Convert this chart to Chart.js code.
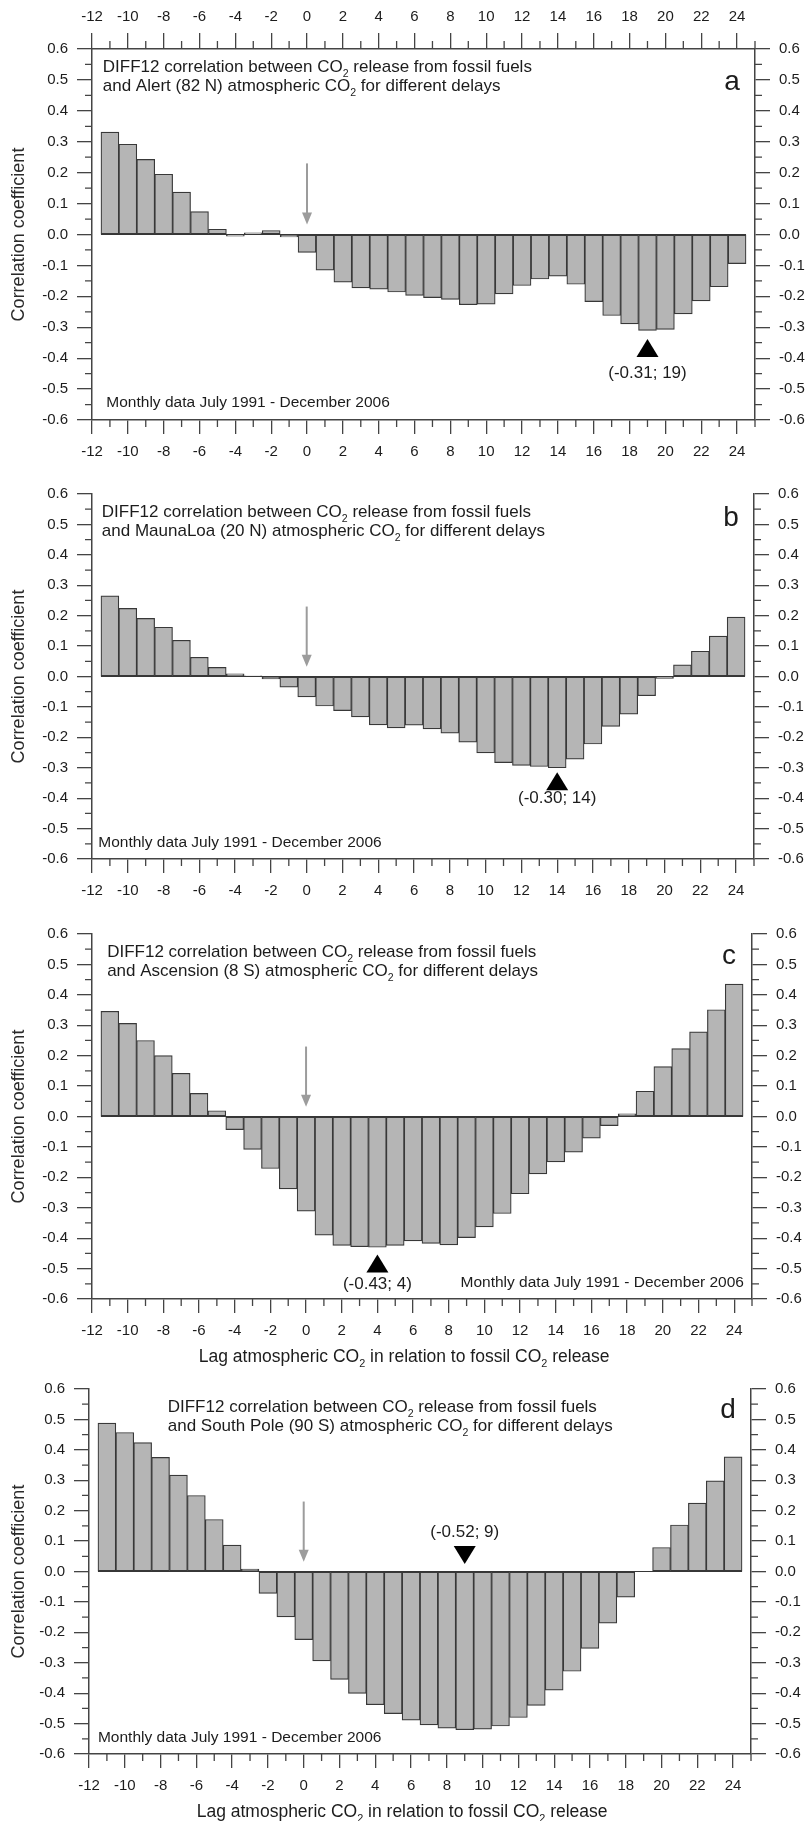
<!DOCTYPE html>
<html>
<head>
<meta charset="utf-8">
<title>DIFF12 lag correlations</title>
<script src="https://cdn.jsdelivr.net/npm/chart.js@4.4.0/dist/chart.umd.min.js"></script>
<style>
  html, body { margin: 0; padding: 0; background: #fff; }
  body { width: 809px; height: 1821px; position: relative; overflow: hidden; }
  canvas { position: absolute; left: 0; }
</style>
</head>
<body>
<canvas id="chartA"></canvas>
<canvas id="chartB"></canvas>
<canvas id="chartC"></canvas>
<canvas id="chartD"></canvas>
<script>
// Lag in months (atmospheric CO2 relative to fossil CO2 release)
const lags = [-11, -10, -9, -8, -7, -6, -5, -4, -3, -2, -1, 0, 1, 2, 3, 4, 5, 6,
              7, 8, 9, 10, 11, 12, 13, 14, 15, 16, 17, 18, 19, 20, 21, 22, 23, 24];

// Correlation coefficients per station
const alertR = [0.331, 0.292, 0.243, 0.195, 0.137, 0.074, 0.017, -0.005, 0.005, 0.013, -0.008, -0.058,
                -0.115, -0.154, -0.173, -0.177, -0.186, -0.197, -0.204, -0.210, -0.227, -0.225, -0.192, -0.165,
                -0.144, -0.135, -0.161, -0.217, -0.262, -0.289, -0.31, -0.307, -0.257, -0.215, -0.169, -0.094];
const maunaLoaR = [0.265, 0.224, 0.191, 0.162, 0.119, 0.063, 0.030, 0.009, 0.002, -0.008, -0.035, -0.067,
                   -0.097, -0.112, -0.133, -0.159, -0.169, -0.160, -0.172, -0.186, -0.216, -0.251, -0.283, -0.292,
                   -0.296, -0.30, -0.272, -0.222, -0.164, -0.124, -0.063, -0.006, 0.038, 0.083, 0.133, 0.195];
const ascensionR = [0.346, 0.306, 0.250, 0.200, 0.142, 0.076, 0.019, -0.043, -0.108, -0.171, -0.238, -0.311,
                    -0.390, -0.424, -0.428, -0.43, -0.424, -0.409, -0.417, -0.422, -0.398, -0.363, -0.319, -0.254,
                    -0.189, -0.149, -0.117, -0.071, -0.030, 0.009, 0.083, 0.164, 0.223, 0.278, 0.351, 0.435];
const southPoleR = [0.488, 0.457, 0.424, 0.375, 0.317, 0.250, 0.171, 0.087, 0.008, -0.072, -0.149, -0.224,
                    -0.294, -0.355, -0.401, -0.438, -0.467, -0.489, -0.504, -0.515, -0.52, -0.518, -0.508, -0.480,
                    -0.440, -0.390, -0.328, -0.253, -0.170, -0.084, 0, 0.079, 0.153, 0.225, 0.298, 0.377];

// Axis ticks
const xTickValues = [-12, -10, -8, -6, -4, -2, 0, 2, 4, 6, 8, 10, 12, 14, 16, 18, 20, 22, 24];
const yTickValues = [-0.6, -0.5, -0.4, -0.3, -0.2, -0.1, 0, 0.1, 0.2, 0.3, 0.4, 0.5, 0.6];

// Texts
const alertLines = ['DIFF12 correlation between CO₂ release from fossil fuels',
                    'and Alert (82 N) atmospheric CO₂ for different delays'];
const maunaLoaLines = ['DIFF12 correlation between CO₂ release from fossil fuels',
                       'and MaunaLoa (20 N) atmospheric CO₂ for different delays'];
const ascensionLines = ['DIFF12 correlation between CO₂ release from fossil fuels',
                        'and Ascension (8 S) atmospheric CO₂ for different delays'];
const southPoleLines = ['DIFF12 correlation between CO₂ release from fossil fuels',
                        'and South Pole (90 S) atmospheric CO₂ for different delays'];
const periodNote = 'Monthly data July 1991 - December 2006';
const yTitle = 'Correlation coefficient';
const xTitle = 'Lag atmospheric CO₂ in relation to fossil CO₂ release';

const AXIS = '#444';
const INK = '#1c1c1c';
const FONT = '"Liberation Sans", Arial, Helvetica, sans-serif';

Chart.defaults.font.family = FONT;
Chart.defaults.color = INK;
Chart.defaults.animation = false;

const panels = [
    { id: 'chartA', top: 0, padTop: 49, padBottom: 45, left: 92, right: 755, topAxis: true,
      values: alertR, lines: alertLines, textX: -11.4, letter: 'a', letterY: 0.467,
      noteX: -11.2, noteAlign: 'left', peakLag: 19, peakTip: -0.338, peakDown: false,
      peakText: '(-0.31; 19)', peakTextY: -0.465, xTitle: false },
    { id: 'chartB', top: 476, padTop: 12, padBottom: 45, left: 92, right: 754, topAxis: false,
      values: maunaLoaR, lines: maunaLoaLines, textX: -11.45, letter: 'b', letterY: 0.495,
      noteX: -11.65, noteAlign: 'left', peakLag: 14, peakTip: -0.315, peakDown: false,
      peakText: '(-0.30; 14)', peakTextY: -0.417, xTitle: false },
    { id: 'chartC', top: 916, padTop: 12, padBottom: 70, left: 92, right: 752, topAxis: false,
      values: ascensionR, lines: ascensionLines, textX: -11.15, letter: 'c', letterY: 0.5,
      noteX: 24.55, noteAlign: 'right', peakLag: 4, peakTip: -0.454, peakDown: false,
      peakText: '(-0.43; 4)', peakTextY: -0.568, xTitle: true },
    { id: 'chartD', top: 1371, padTop: 12, padBottom: 67, left: 89, right: 751, topAxis: false,
      values: southPoleR, lines: southPoleLines, textX: -7.6, letter: 'd', letterY: 0.505,
      noteX: -11.5, noteAlign: 'left', peakLag: 9, peakTip: 0.025, peakDown: true,
      peakText: '(-0.52; 9)', peakTextY: 0.113, xTitle: true }
];

// text with "₂" drawn as a lowered small 2
function drawText(ctx, text, x, y, size, align) {
    const parts = text.split('₂');
    const sub = size * 0.62;
    const font = s => s + 'px ' + FONT;
    let width = 0;
    parts.forEach((p, i) => {
        ctx.font = font(size);
        width += ctx.measureText(p).width;
        if (i < parts.length - 1) {
            ctx.font = font(sub);
            width += ctx.measureText('2').width;
        }
    });
    let cx = align === 'center' ? x - width / 2 : align === 'right' ? x - width : x;
    ctx.textAlign = 'left';
    ctx.textBaseline = 'alphabetic';
    parts.forEach((p, i) => {
        ctx.font = font(size);
        ctx.fillText(p, cx, y);
        cx += ctx.measureText(p).width;
        if (i < parts.length - 1) {
            ctx.font = font(sub);
            ctx.fillText('2', cx, y + size * 0.3);
            cx += ctx.measureText('2').width;
        }
    });
}

function makeDecor(p) {
    return {
        id: 'decor',
        afterDatasetsDraw(chart) {
            const { ctx, chartArea: area, scales } = chart;
            const x = scales.x, y = scales.y;
            const px = v => x.getPixelForValue(v);
            const py = v => y.getPixelForValue(v);
            ctx.save();

            // zero line along the bar bases
            ctx.strokeStyle = '#363636';
            ctx.lineWidth = 1.2;
            ctx.beginPath();
            ctx.moveTo(px(lags[0] - 0.5), py(0));
            ctx.lineTo(px(lags[lags.length - 1] + 0.5), py(0));
            ctx.stroke();

            // minor ticks
            ctx.strokeStyle = AXIS;
            ctx.lineWidth = 1.3;
            ctx.beginPath();
            for (let v = -11; v <= 25; v += 2) {
                ctx.moveTo(px(v), area.bottom);
                ctx.lineTo(px(v), area.bottom + 7);
                if (p.topAxis) {
                    ctx.moveTo(px(v), area.top);
                    ctx.lineTo(px(v), area.top - 8);
                }
            }
            for (let k = -11; k <= 11; k += 2) {
                const yy = py(k / 20);
                ctx.moveTo(area.left - 7, yy);
                ctx.lineTo(area.left, yy);
                ctx.moveTo(area.right, yy);
                ctx.lineTo(area.right + 7, yy);
            }
            ctx.stroke();

            // grey arrow at zero lag
            const ax = px(0);
            ctx.strokeStyle = '#9c9c9c';
            ctx.fillStyle = '#9c9c9c';
            ctx.lineWidth = 2;
            ctx.beginPath();
            ctx.moveTo(ax, py(0.23));
            ctx.lineTo(ax, py(0.032) - 8);
            ctx.stroke();
            ctx.beginPath();
            ctx.moveTo(ax, py(0.032));
            ctx.lineTo(ax - 5, py(0.032) - 12);
            ctx.lineTo(ax + 5, py(0.032) - 12);
            ctx.closePath();
            ctx.fill();

            // black triangle at the extreme value
            const tx = px(p.peakLag), tip = py(p.peakTip);
            const dir = p.peakDown ? -1 : 1;
            ctx.fillStyle = '#000';
            ctx.beginPath();
            ctx.moveTo(tx, tip);
            ctx.lineTo(tx - 11, tip + dir * 18);
            ctx.lineTo(tx + 11, tip + dir * 18);
            ctx.closePath();
            ctx.fill();

            ctx.fillStyle = INK;
            drawText(ctx, p.peakText, tx, py(p.peakTextY), 17, 'center');

            // heading, panel letter, period note
            drawText(ctx, p.lines[0], px(p.textX), py(0.525), 17, 'left');
            drawText(ctx, p.lines[1], px(p.textX), py(0.463), 17, 'left');
            drawText(ctx, p.letter, area.right - 23, py(p.letterY), 28, 'center');
            drawText(ctx, periodNote, px(p.noteX), py(-0.559), 15.5, p.noteAlign);

            if (p.xTitle) {
                drawText(ctx, xTitle, px(5.5), area.bottom + 63, 17.5, 'center');
            }
            ctx.restore();
        }
    };
}

function xAxis(p, position) {
    return {
        type: 'linear',
        position: position,
        min: -12,
        max: 25,
        offset: false,
        afterBuildTicks: s => { s.ticks = xTickValues.map(v => ({ value: v })); },
        afterFit: s => { s.height = position === 'top' ? p.padTop : p.padBottom; },
        ticks: {
            autoSkip: false,
            maxRotation: 0,
            padding: position === 'top' ? 7 : 9,
            color: INK,
            font: { size: 15 },
            callback: v => String(v)
        },
        grid: { offset: false, drawOnChartArea: false, tickLength: position === 'top' ? 16 : 14,
                color: AXIS, lineWidth: 1.3 },
        border: { display: true, color: AXIS, width: 1.5 }
    };
}

function yAxis(p, position) {
    return {
        type: 'linear',
        position: position,
        min: -0.6,
        max: 0.6,
        afterBuildTicks: s => { s.ticks = yTickValues.map(v => ({ value: v })); },
        afterFit: s => { s.width = position === 'left' ? p.left : 809 - p.right; },
        ticks: {
            padding: 9,
            color: INK,
            font: { size: 15 },
            callback: v => v.toFixed(1)
        },
        grid: { drawOnChartArea: false, tickLength: 15, color: AXIS, lineWidth: 1.3 },
        border: { display: true, color: AXIS, width: 1.5 },
        title: {
            display: position === 'left',
            text: yTitle,
            color: '#2a2a2a',
            font: { size: 18 },
            padding: { top: 8, bottom: 0 }
        }
    };
}

panels.forEach(p => {
    const canvas = document.getElementById(p.id);
    const height = p.padTop + 371 + p.padBottom;
    canvas.width = 809;
    canvas.height = height;
    canvas.style.top = p.top + 'px';
    canvas.style.width = '809px';
    canvas.style.height = height + 'px';

    const scales = { x: xAxis(p, 'bottom'), y: yAxis(p, 'left'), y2: yAxis(p, 'right') };
    if (p.topAxis) scales.x2 = xAxis(p, 'top');

    new Chart(canvas, {
        type: 'bar',
        data: {
            datasets: [{
                data: lags.map((lag, i) => ({ x: lag, y: p.values[i] })),
                backgroundColor: '#b5b5b5',
                borderColor: '#383838',
                borderWidth: 1.2,
                borderSkipped: false,
                barPercentage: 1,
                categoryPercentage: 1
            }]
        },
        options: {
            responsive: false,
            layout: { padding: { top: p.topAxis ? 0 : p.padTop, left: 0, right: 0, bottom: 0 } },
            plugins: { legend: { display: false }, tooltip: { enabled: false } },
            scales: scales
        },
        plugins: [makeDecor(p)]
    });
});
</script>
</body>
</html>
